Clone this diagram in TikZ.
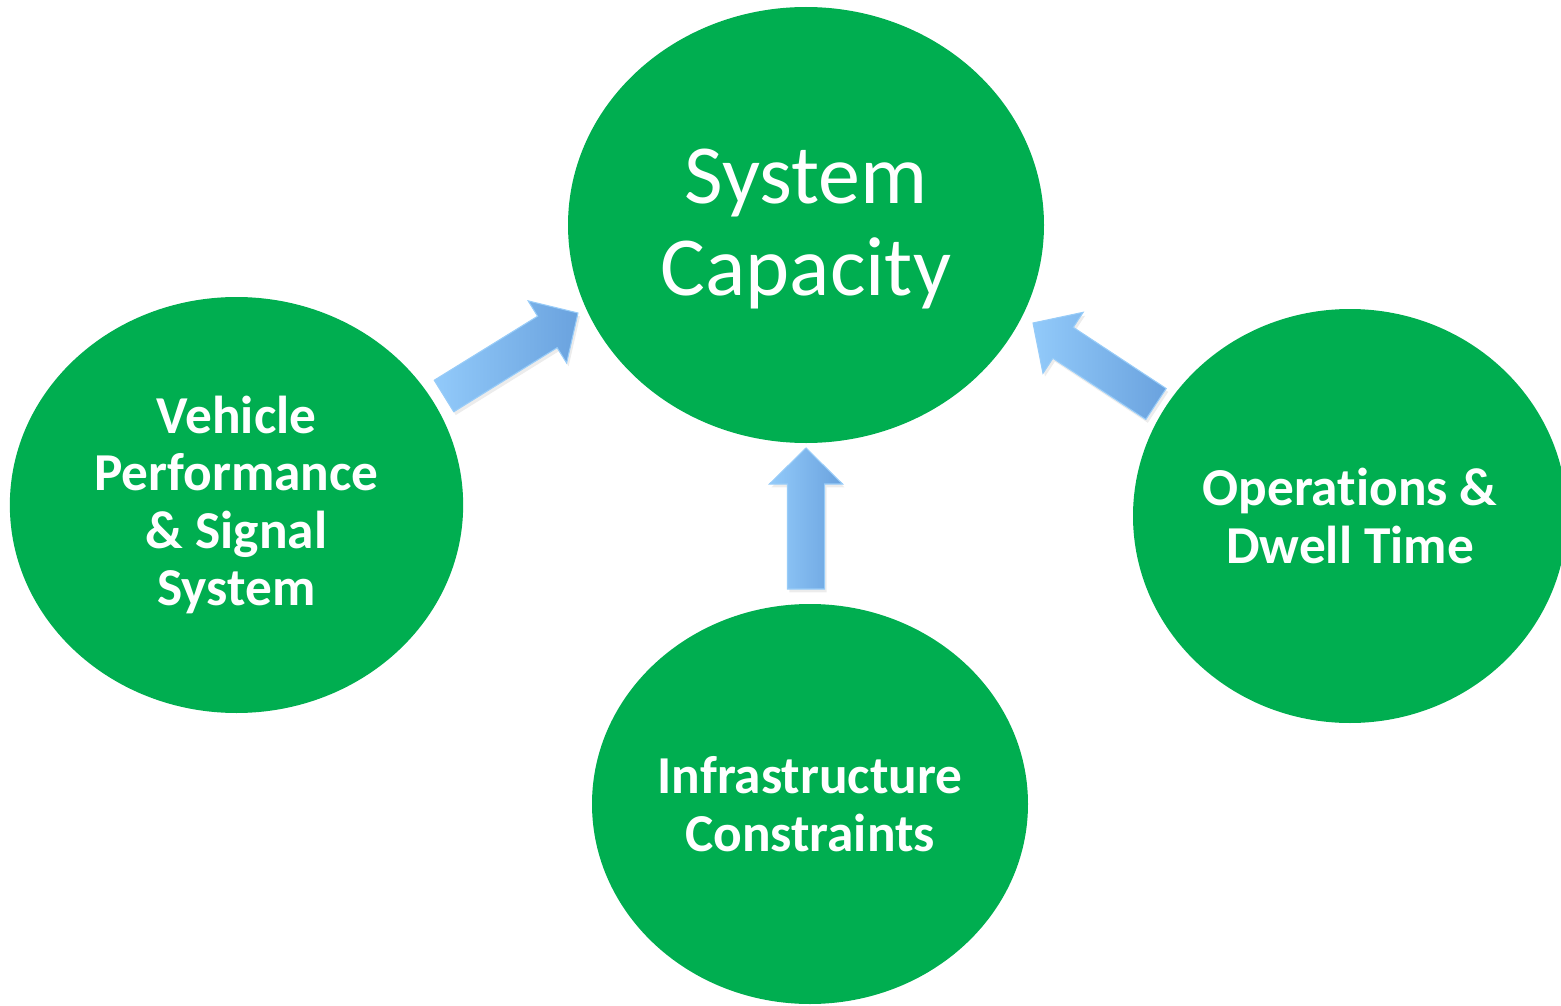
\documentclass[tikz,border=0pt]{standalone}
\usepackage{fontspec}
\setmainfont{Carlito}[Ligatures=NoCommon]
\usetikzlibrary{shapes.geometric,calc,shadows}

\definecolor{capgreen}{RGB}{0,174,80}
\definecolor{arrowlight}{RGB}{146,202,250}
\definecolor{arrowdark}{RGB}{106,162,222}
\definecolor{arrowedge}{RGB}{152,204,248}

\newcommand{\shafthalf}{13.9pt}
\newcommand{\headhalf}{27.4pt}
\newcommand{\headlen}{27pt}

\tikzset{every picture/.style={line width=0.75pt}}
\tikzset{
  blob/.style={ellipse, fill=capgreen, text=white, align=center, inner sep=0pt, outer sep=0pt},
  blobtext/.style={font=\bfseries\fontsize{40}{43}\selectfont},
  fat arrow/.style={left color=arrowlight, right color=arrowdark, draw=arrowedge, line width=0.8pt,
    drop shadow={opacity=0.15, shadow xshift=1.5pt, shadow yshift=-2.5pt},
    to path={
      ($(\tikztostart)!\shafthalf!90:(\tikztotarget)$)
      -- ($($(\tikztotarget)!\headlen!(\tikztostart)$)!\shafthalf!90:(\tikztotarget)$)
      -- ($($(\tikztotarget)!\headlen!(\tikztostart)$)!\headhalf!90:(\tikztotarget)$)
      -- (\tikztotarget)
      -- ($($(\tikztotarget)!\headlen!(\tikztostart)$)!\headhalf!-90:(\tikztotarget)$)
      -- ($($(\tikztotarget)!\headlen!(\tikztostart)$)!\shafthalf!-90:(\tikztotarget)$)
      -- ($(\tikztostart)!\shafthalf!-90:(\tikztotarget)$)
      -- cycle}}
}

\begin{document}
\begin{tikzpicture}[x=0.75pt,y=-0.75pt]
	\useasboundingbox (0,0) rectangle (1561,1006);

	% Ellipses
	\node[blob, minimum width=357pt, minimum height=327pt, text depth=4pt, font=\fontsize{63}{69}\selectfont] (cap) at (806,225) {System\\Capacity};
	\node[blob, blobtext, minimum width=340pt, minimum height=312pt] (perf) at (236.5,505) {Vehicle\\Performance\\\& Signal\\System};
	\node[blob, blobtext, minimum width=327pt, minimum height=300pt] (infra) at (810,804) {Infrastructure\\Constraints};
	\node[blob, blobtext, minimum width=325.5pt, minimum height=310.5pt] (ops) at (1350,516) {Operations \&\\Dwell Time};

	% Arrow ends
	\coordinate (perftail) at (444,396);
	\coordinate (perftip) at (578,313);
	\coordinate (infratail) at (806,589);
	\coordinate (infratip) at (806,448);
	\coordinate (opstail) at (1156,404);
	\coordinate (opstip) at (1033,323);

	% Block arrows
	\draw[fat arrow] (perftail) to (perftip);
	\draw[fat arrow] (infratail) to (infratip);
	\draw[fat arrow] (opstail) to (opstip);

\end{tikzpicture}
\end{document}
